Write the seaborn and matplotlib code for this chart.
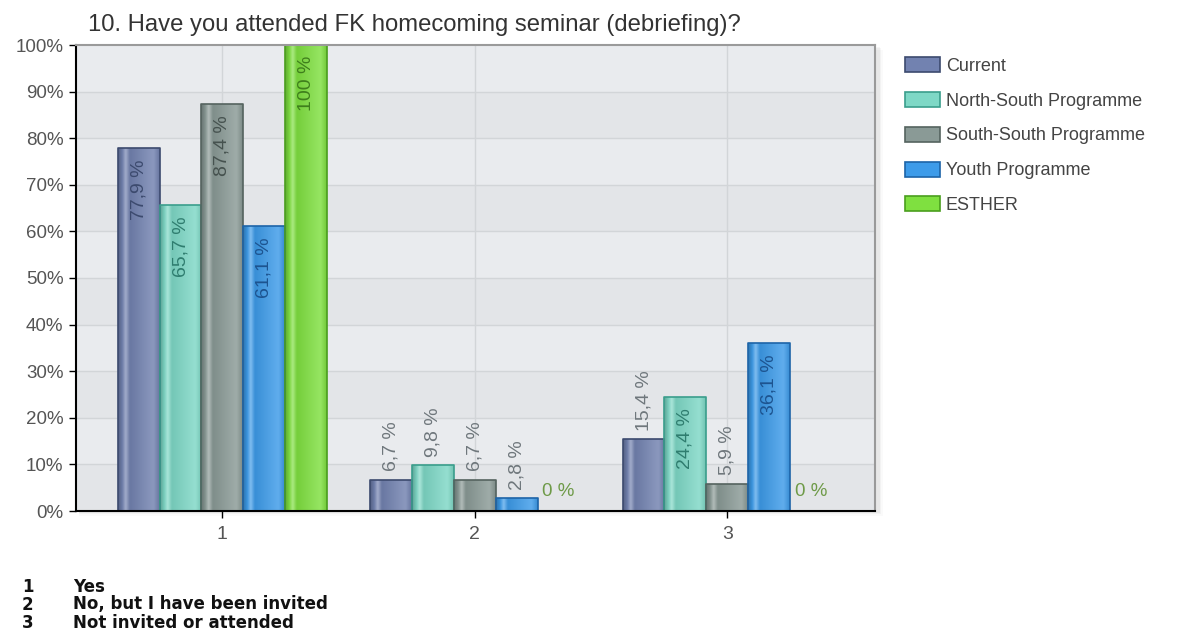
import numpy as np
import pandas as pd
import matplotlib
matplotlib.use("Agg")
import matplotlib.pyplot as plt
import seaborn as sns
from matplotlib.colors import to_rgb, LinearSegmentedColormap
from matplotlib.patches import Patch, Rectangle

# Survey answers (x categories) and share of respondents per programme, in percent
answers = ["1", "2", "3"]
answer_texts = ["Yes", "No, but I have been invited", "Not invited or attended"]
programmes = ["Current", "North-South Programme", "South-South Programme",
              "Youth Programme", "ESTHER"]
current = [77.9, 6.7, 15.4]
north_south = [65.7, 9.8, 24.4]
south_south = [87.4, 6.7, 5.9]
youth = [61.1, 2.8, 36.1]
esther = [100.0, 0.0, 0.0]
y_ticks = list(range(0, 101, 10))
y_ticklabels = [f"{t}%" for t in y_ticks]
title = "10. Have you attended FK homecoming seminar (debriefing)?"

bar_colors = ["#7282b0", "#7ed8c6", "#8a9a96", "#3d9be9", "#7fe040"]
edge_colors = ["#3c4a6e", "#3a9e8c", "#55635f", "#1d64a8", "#4a9e1e"]
label_colors = ["#3c4a6e", "#2f7d6f", "#46524f", "#1d5490", "#3f7f1c"]

rows = []
for prog, vals in zip(programmes, [current, north_south, south_south, youth, esther]):
    for a, v in zip(answers, vals):
        rows.append({"answer": a, "value": v, "programme": prog})
df = pd.DataFrame(rows)

sns.set_theme(style="white")
plt.rcParams["font.family"] = ["Liberation Sans", "DejaVu Sans"]

fig = plt.figure(figsize=(11.82, 6.32), dpi=100)
ax_rect = [76 / 1182, 1 - 511 / 632, 799 / 1182, 466 / 632]

# soft drop shadow behind the plot frame
for k, a in [(5, 0.02), (3, 0.03), (1.5, 0.04)]:
    fig.patches.append(Rectangle((ax_rect[0] + 3 / 1182, ax_rect[1] - k / 632),
                                 ax_rect[2] + k / 1182, ax_rect[3],
                                 transform=fig.transFigure, color="black",
                                 alpha=a, lw=0, zorder=-5))

ax = fig.add_axes(ax_rect)
ax.set_zorder(1)

# striped plot background and grid
band_cols = ["#e3e5e8", "#e9ebee"]
for i in range(10):
    ax.axhspan(i * 10, (i + 1) * 10, color=band_cols[i % 2], zorder=0, lw=0)
for t in y_ticks[1:-1]:
    ax.axhline(t, color="#d2d5d8", lw=1, zorder=0.5)
for i in range(len(answers)):
    ax.axvline(i, color="#d2d5d8", lw=1, zorder=0.5)

sns.barplot(data=df, x="answer", y="value", hue="programme", hue_order=programmes,
            order=answers, palette=bar_colors, saturation=1, width=0.83, gap=0,
            edgecolor="black", linewidth=1.2, legend=False, ax=ax, zorder=2)


def shade(c, k):
    c = np.array(to_rgb(c))
    if k >= 0:
        return tuple(c + (1 - c) * k)
    return tuple(c * (1 + k))


# glossy horizontal gradient inside each bar, clipped to the bar outline
for cont, col, ecol, lcol in zip(ax.containers, bar_colors, edge_colors, label_colors):
    cmap = LinearSegmentedColormap.from_list(
        "g", [(0.0, shade(col, -0.25)), (0.10, shade(col, -0.05)),
              (0.18, shade(col, 0.35)), (0.28, shade(col, -0.08)),
              (0.85, shade(col, 0.18)), (1.0, shade(col, -0.1))])
    for bar in cont:
        bar.set_edgecolor(ecol)
        bar.set_joinstyle("round")
        h = bar.get_height()
        x0, w = bar.get_x(), bar.get_width()
        if h > 0:
            bar.set_facecolor("none")
            im = ax.imshow(np.linspace(0, 1, 128).reshape(1, -1), cmap=cmap,
                           extent=[x0, x0 + w, 0, h], aspect="auto",
                           origin="lower", zorder=1.9, interpolation="bicubic")
            im.set_clip_path(bar)
        xc = x0 + w / 2
        if h == 0:
            ax.text(xc, 4.1, "0 %", ha="center", va="center", fontsize=13.5,
                    color="#6e9a48", zorder=3)
        else:
            txt = (f"{h:.0f}" if float(h).is_integer() else f"{h:.1f}".replace(".", ",")) + " %"
            if h >= 20:
                ax.annotate(txt, (xc, h), xytext=(0, -8), textcoords="offset points",
                            rotation=90, ha="center", va="top", fontsize=14,
                            color=lcol, zorder=3)
            else:
                ax.annotate(txt, (xc, h), xytext=(0, 6), textcoords="offset points",
                            rotation=90, ha="center", va="bottom", fontsize=14,
                            color="#6f777c", zorder=3)

ax.set_xlim(-0.58, 2.585)
ax.set_ylim(0, 100)
ax.set_yticks(y_ticks)
ax.set_yticklabels(y_ticklabels)
ax.set_xlabel("")
ax.set_ylabel("")
ax.tick_params(axis="y", length=5, width=1, color="black", direction="out",
               labelsize=13.5, labelcolor="#555555", pad=4, left=True)
ax.tick_params(axis="x", length=5, width=1, color="black", direction="out",
               labelsize=14, labelcolor="#555555", pad=6, bottom=True)
for side in ["left", "bottom"]:
    ax.spines[side].set_color("black")
    ax.spines[side].set_linewidth(1.5)
for side in ["top", "right"]:
    ax.spines[side].set_color("#9a9a9a")
    ax.spines[side].set_linewidth(1.5)
for s in ax.spines.values():
    s.set_zorder(5)

fig.text(88 / 1182, 1 - 25 / 632, title, fontsize=17.2, color="#333333",
         ha="left", va="center")

handles = [Patch(facecolor=c, edgecolor=e, linewidth=1.2)
           for c, e in zip(bar_colors, edge_colors)]
fig.legend(handles, programmes, loc="upper left",
           bbox_to_anchor=(905 / 1182, 1 - 57 / 632), frameon=False,
           fontsize=13, handlelength=1.94, handleheight=0.9, handletextpad=0.33,
           labelspacing=0.95, labelcolor="#444444", borderaxespad=0, borderpad=0)

# answer key below the chart
for i, (a, t) in enumerate(zip(answers, answer_texts)):
    y = 1 - (586.5 + i * 18) / 632
    fig.text(22 / 1182, y, a, fontsize=12, fontweight="bold", family="DejaVu Sans",
             color="#111111", va="center")
    fig.text(73 / 1182, y, t, fontsize=12, fontweight="bold", family="DejaVu Sans",
             color="#111111", va="center")

fig.savefig("out.png", dpi=100)
